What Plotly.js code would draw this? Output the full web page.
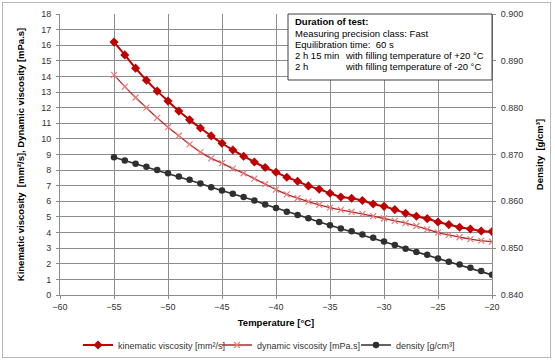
<!DOCTYPE html>
<html><head><meta charset="utf-8">
<script src="https://cdn.plot.ly/plotly-3.0.1.min.js"></script>
<style>
html,body{margin:0;padding:0;background:#fff;}
#wrap{position:relative;width:555px;height:360px;}
#chart{width:555px;height:360px;}
#frame{position:absolute;left:2px;top:2px;width:547px;height:354px;border:1px solid #b8b8b8;pointer-events:none;}
</style></head>
<body><div id="wrap"><div id="chart"></div><div id="frame"></div></div>
<script>
const temperature = [-55,-54,-53,-52,-51,-50,-49,-48,-47,-46,-45,-44,-43,-42,-41,-40,-39,-38,-37,-36,-35,-34,-33,-32,-31,-30,-29,-28,-27,-26,-25,-24,-23,-22,-21,-20];
const kinematicViscosity = [16.2,15.38,14.53,13.76,13.06,12.42,11.78,11.22,10.7,10.19,9.72,9.29,8.89,8.52,8.17,7.86,7.54,7.29,6.99,6.77,6.52,6.28,6.2,6.05,5.83,5.68,5.47,5.24,5.04,4.89,4.68,4.51,4.34,4.23,4.10,4.06];
const dynamicViscosity = [14.1,13.35,12.65,12.0,11.35,10.75,10.2,9.65,9.15,8.75,8.45,8.1,7.8,7.45,7.1,6.75,6.45,6.2,5.98,5.78,5.6,5.45,5.33,5.2,5.05,4.9,4.75,4.6,4.42,4.2,4.0,3.85,3.7,3.58,3.48,3.42];
const density = [0.8694,0.8687,0.8680,0.8674,0.8667,0.8660,0.8653,0.8646,0.8638,0.8630,0.8623,0.8616,0.8609,0.8602,0.8593,0.8586,0.8578,0.8571,0.8564,0.8556,0.8549,0.8542,0.8536,0.8529,0.8522,0.8514,0.8507,0.8499,0.8492,0.8486,0.8478,0.8471,0.8465,0.8458,0.8451,0.8443];
const seriesNames = ['kinematic viscosity [mm²/s]','dynamic viscosity [mPa.s]','density [g/cm³]'];
const infoTitle = 'Duration of test:';
const infoLines = ['Measuring precision class: Fast','Equilibration time:  60 s'];
const infoRows = [['2 h 15 min','with filling temperature of +20 °C'],['2 h','with filling temperature of -20 °C']];

const FONT = 'Liberation Sans, Arial, sans-serif';
const traces = [
  {x: temperature, y: kinematicViscosity, name: seriesNames[0], type: 'scatter', mode: 'lines+markers',
   line: {color: '#c00000', width: 2, shape: 'spline', smoothing: 0.6},
   marker: {symbol: 'diamond', size: 7, color: '#c00000'}},
  {x: temperature, y: dynamicViscosity, name: seriesNames[1], type: 'scatter', mode: 'lines+markers',
   line: {color: '#b02a2a', width: 1.3, shape: 'spline', smoothing: 0.8},
   marker: {symbol: 'x-thin', size: 6, line: {color: '#f07878', width: 1.2}, color: '#f07878'}},
  {x: temperature, y: density, name: seriesNames[2], type: 'scatter', mode: 'lines+markers', yaxis: 'y2',
   line: {color: '#303030', width: 1.6},
   marker: {symbol: 'circle', size: 6.5, color: '#303030'}}
];

const L = 60, R = 63, T = 14, B = 65;
const W = 555 - L - R, H = 360 - T - B;
const px = v => (v - L) / W;
const py = v => (360 - B - v) / H;

const annotations = [];
annotations.push({xref:'paper', yref:'paper', x: px(293), y: py(21.5), xanchor:'left', yanchor:'middle', showarrow:false,
  text: '<b>' + infoTitle + '</b>', font:{family:FONT, size:9.5, color:'#000'}});
infoLines.forEach((t,i)=>annotations.push({xref:'paper', yref:'paper', x: px(293), y: py(33 + i*11.6), xanchor:'left', yanchor:'middle', showarrow:false,
  text: t.replace(/  /g,'\u00a0 '), font:{family:FONT, size:9.5, color:'#000'}}));
infoRows.forEach((r,i)=>{
  annotations.push({xref:'paper', yref:'paper', x: px(293), y: py(56 + i*11), xanchor:'left', yanchor:'middle', showarrow:false,
    text: r[0], font:{family:FONT, size:9.5, color:'#000'}});
  annotations.push({xref:'paper', yref:'paper', x: px(343), y: py(56 + i*11), xanchor:'left', yanchor:'middle', showarrow:false,
    text: r[1], font:{family:FONT, size:9.5, color:'#000'}});
});

const layout = {
  width: 555, height: 360,
  margin: {l: L, r: R, t: T, b: B, autoexpand: false},
  paper_bgcolor: '#fff', plot_bgcolor: '#fff',
  font: {family: FONT, size: 9, color: '#333'},
  showlegend: true,
  legend: {orientation: 'h', x: px(78), xanchor: 'left', y: py(345), yanchor: 'middle',
    font: {family: FONT, size: 9, color: '#333'}, itemwidth: 30, entrywidth: 94, entrywidthmode: 'pixels'},
  xaxis: {range: [-60, -20], dtick: 5, tick0: -60, showgrid: true, gridcolor: '#8c8c8c', gridwidth: 1,
    showline: true, linecolor: '#8c8c8c', zeroline: false, ticks: 'outside', ticklen: 3, tickcolor: '#8c8c8c',
    ticklabelstandoff: 0,
    tickfont: {family: FONT, size: 9, color: '#333'},
    title: {text: '<b>Temperature [°C]</b>', font: {family: FONT, size: 9.5, color: '#000'}, standoff: 8}},
  yaxis: {range: [0, 18], dtick: 1, showgrid: true, gridcolor: '#8c8c8c', gridwidth: 1,
    showline: true, linecolor: '#8c8c8c', zeroline: false, ticks: 'outside', ticklen: 3, tickcolor: '#8c8c8c',
    ticklabelstandoff: 3,
    tickfont: {family: FONT, size: 9, color: '#333'},
    title: {text: '<b>Kinematic viscosity  [mm²/s], Dynamic viscosity [mPa.s]</b>', font: {family: FONT, size: 9.5, color: '#000'}, standoff: 14}},
  yaxis2: {range: [0.84, 0.90], dtick: 0.01, tickformat: '.3f', overlaying: 'y', side: 'right', showgrid: false,
    showline: true, linecolor: '#8c8c8c', zeroline: false, ticks: 'outside', ticklen: 3, tickcolor: '#8c8c8c',
    ticklabelstandoff: 3,
    tickfont: {family: FONT, size: 9, color: '#333'},
    title: {text: '<b>Density  [g/cm³]</b>', font: {family: FONT, size: 9.5, color: '#000'}, standoff: 14}},
  shapes: [{type: 'rect', xref: 'paper', yref: 'paper', x0: px(288), x1: 1, y0: py(80), y1: 1,
    fillcolor: '#fff', line: {color: '#404040', width: 1}, layer: 'above'}],
  annotations: annotations
};
Plotly.newPlot('chart', traces, layout, {displayModeBar: false, staticPlot: true});
</script></body></html>
